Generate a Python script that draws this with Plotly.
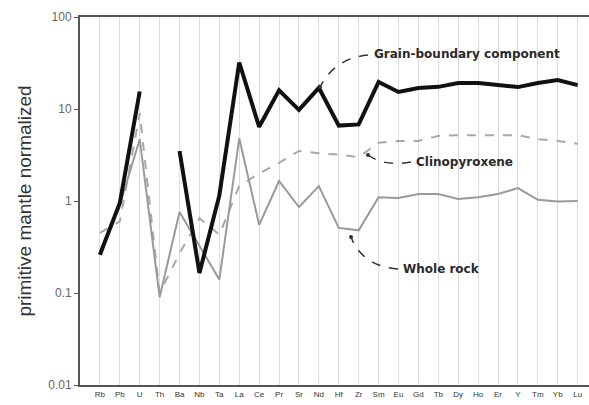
import plotly.graph_objects as go

# Trace elements, primitive-mantle order
elements = ["Rb", "Pb", "U", "Th", "Ba", "Nb", "Ta", "La", "Ce", "Pr", "Sr", "Nd", "Hf",
            "Zr", "Sm", "Eu", "Gd", "Tb", "Dy", "Ho", "Er", "Y", "Tm", "Yb", "Lu"]

# Primitive-mantle normalized concentrations
grain_boundary = [0.26, 0.95, 15.5, None, 3.5, 0.165, 1.15, 32, 6.4, 16, 9.8, 17, 6.6,
                  6.8, 19.7, 15.3, 16.9, 17.4, 19.2, 19.2, 18.2, 17.3, 19.2, 20.6, 18.2]
clinopyroxene = [0.45, 0.6, 9.0, 0.1, 0.27, 0.65, 0.43, 1.45, 2.0, 2.6, 3.5, 3.3, 3.2,
                 3.0, 4.3, 4.5, 4.5, 5.1, 5.2, 5.2, 5.2, 5.2, 4.7, 4.5, 4.2]
whole_rock = [0.28, 0.9, 4.7, 0.09, 0.76, 0.33, 0.14, 4.8, 0.55, 1.65, 0.86, 1.45, 0.51,
              0.48, 1.1, 1.08, 1.19, 1.19, 1.05, 1.1, 1.19, 1.38, 1.03, 0.99, 1.0]

y_ticks = [0.01, 0.1, 1, 10, 100]
y_ticklabels = ["0.01", "0.1", "1", "10", "100"]

xs = list(range(len(elements)))

fig = go.Figure()
fig.add_trace(go.Scatter(x=xs, y=clinopyroxene, mode="lines",
                         line=dict(color="#a8a8a8", width=2, dash="dash"),
                         name="Clinopyroxene"))
fig.add_trace(go.Scatter(x=xs, y=whole_rock, mode="lines",
                         line=dict(color="#9a9a9a", width=2),
                         name="Whole rock"))
fig.add_trace(go.Scatter(x=xs, y=grain_boundary, mode="lines", connectgaps=False,
                         line=dict(color="#111111", width=4),
                         name="Grain-boundary component"))

# Plot-area geometry in pixels, used to place the leader curves
W, H = 589, 405
L, R, T, B = 80, 0, 17, 20
pw, ph = W - L - R, H - T - B


def px(x, y):
    return (x - L) / pw, (H - B - y) / ph


def leader(points, dot):
    (x0, y0), (xc, yc), (x1, y1) = [px(*p) for p in points]
    fig.add_shape(type="path", xref="paper", yref="paper",
                  path=f"M {x0},{y0} Q {xc},{yc} {x1},{y1}",
                  line=dict(color="#333333", width=1.5, dash="dash"))
    dx, dy = px(*dot)
    fig.add_shape(type="circle", xref="paper", yref="paper",
                  x0=dx - 2 / pw, x1=dx + 2 / pw, y0=dy - 2 / ph, y1=dy + 2 / ph,
                  fillcolor="#333333", line=dict(width=0))


leader([(368, 55), (335, 58), (320, 87)], (320, 87))
leader([(411, 162), (385, 167), (368, 155)], (368, 155))
leader([(398, 269), (362, 266), (351, 237)], (351, 237))

label_font = dict(family="DejaVu Sans", size=12, color="#2a2a2a")
for text, (lx, ly) in [("Grain-boundary component", (372, 54)),
                       ("Clinopyroxene", (414, 162)),
                       ("Whole rock", (401, 269))]:
    ax, ay = px(lx, ly)
    fig.add_annotation(x=ax, y=ay, xref="paper", yref="paper", text=f"<b>{text}</b>",
                       showarrow=False, xanchor="left", yanchor="middle", font=label_font)

fig.update_layout(
    width=W, height=H,
    margin=dict(l=L, r=R, t=T, b=B),
    paper_bgcolor="white", plot_bgcolor="white",
    showlegend=False,
    font=dict(family="Liberation Sans, Arial, sans-serif"),
)
fig.update_xaxes(
    range=[-1, 24.57],
    tickvals=xs, ticktext=elements,
    tickfont=dict(size=8, color="#333333"),
    showgrid=True, gridcolor="#dcdcdc", gridwidth=1,
    showline=True, linecolor="#555555", linewidth=2, mirror=True,
    ticks="", zeroline=False,
)
fig.update_yaxes(
    type="log", range=[-2, 2],
    tickvals=y_ticks, ticktext=y_ticklabels,
    tickfont=dict(size=12, color="#666666"),
    showgrid=False,
    showline=True, linecolor="#555555", linewidth=2,
    ticks="outside", ticklen=4, tickcolor="#555555",
    title=dict(text="primitive mantle normalized",
               font=dict(size=19, color="#333333"), standoff=12),
)

fig.write_html("out.html")
